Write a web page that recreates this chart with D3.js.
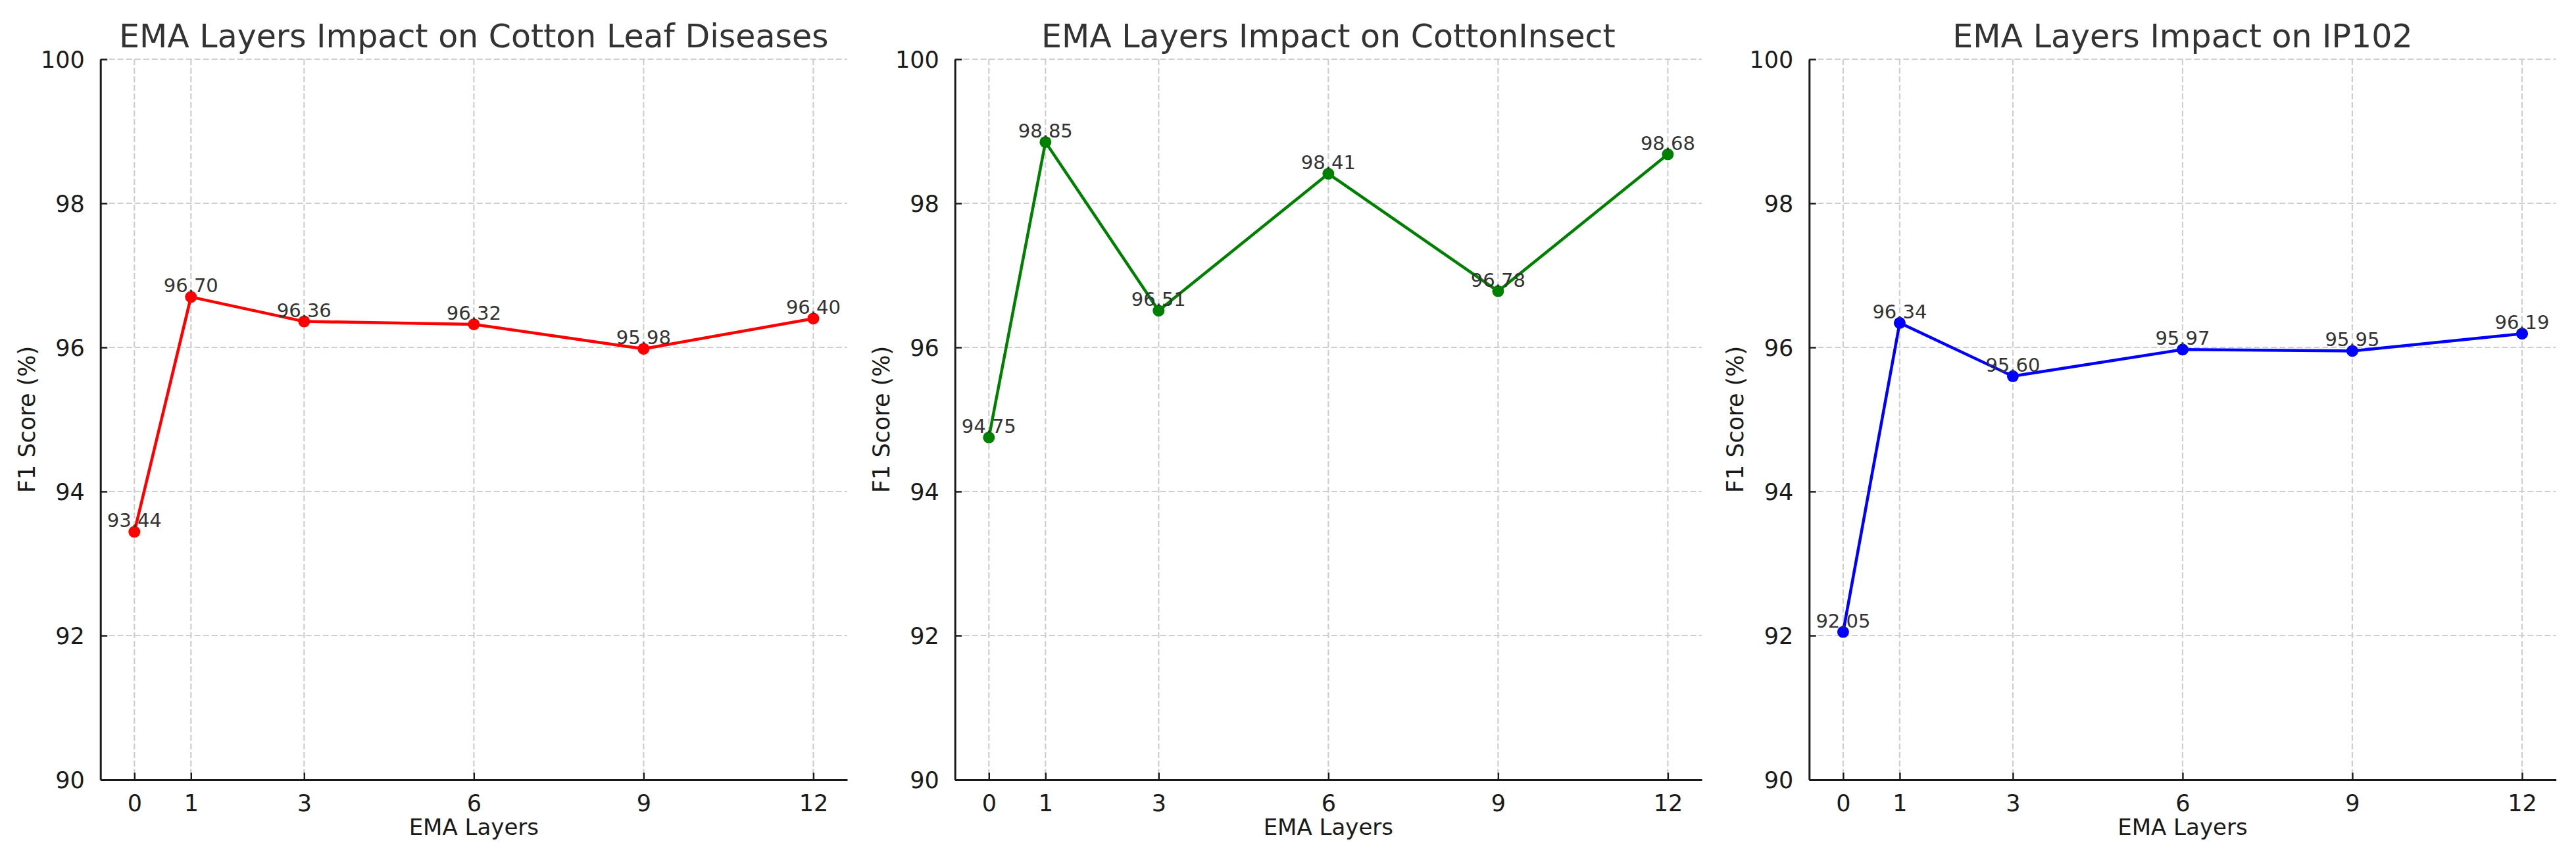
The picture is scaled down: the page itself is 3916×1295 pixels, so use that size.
<!DOCTYPE html>
<html>
<head>
<meta charset="utf-8">
<script src="https://cdn.jsdelivr.net/npm/d3@7/dist/d3.min.js"></script>
<style>
  html, body { margin: 0; padding: 0; background: #fff; }
  svg { display: block; font-family: "DejaVu Sans", sans-serif; }
</style>
</head>
<body>
<svg id="chart" width="3916" height="1295"></svg>
<script>
// ---- data ----
const layers = [0, 1, 3, 6, 9, 12];
const titles = [
  "EMA Layers Impact on Cotton Leaf Diseases",
  "EMA Layers Impact on CottonInsect",
  "EMA Layers Impact on IP102"
];
const cottonLeaf = [93.44, 96.70, 96.36, 96.32, 95.98, 96.40];
const cottonInsect = [94.75, 98.85, 96.51, 98.41, 96.78, 98.68];
const ip102 = [92.05, 96.34, 95.60, 95.97, 95.95, 96.19];
const seriesColors = ["#ff0000", "#008000", "#0000ff"];
const yTicks = [90, 92, 94, 96, 98, 100];
const xLabel = "EMA Layers";
const yLabel = "F1 Score (%)";

const series = [cottonLeaf, cottonInsect, ip102];

// ---- layout ----
const svg = d3.select("#chart");
svg.append("rect").attr("width", 3916).attr("height", 1295).attr("fill", "#fff");

const panelLefts = [152.7, 1451.7, 2750.3];
const W = 1135.3, plotTop = 90, plotBottom = 1185;

series.forEach((vals, i) => {
  const left = panelLefts[i];
  const x = d3.scaleLinear().domain([-0.6, 12.6]).range([left, left + W]);
  const y = d3.scaleLinear().domain([90, 100]).range([plotBottom, plotTop]);
  const g = svg.append("g");

  // grid
  const grid = g.append("g");
  grid.selectAll("line.v").data(layers).join("line").attr("class", "v")
    .attr("x1", d => x(d)).attr("x2", d => x(d))
    .attr("y1", plotTop).attr("y2", plotBottom)
    .attr("stroke", "#cfcfcf").attr("stroke-width", 2.2)
    .attr("stroke-dasharray", "9,4");
  grid.selectAll("line.h").data(yTicks).join("line").attr("class", "h")
    .attr("x1", left).attr("x2", left + W)
    .attr("y1", d => y(d)).attr("y2", d => y(d))
    .attr("stroke", "#cfcfcf").attr("stroke-width", 2.2)
    .attr("stroke-dasharray", "9,4");

  // axes
  const xAxis = d3.axisBottom(x).tickValues(layers).tickSizeInner(-10.5).tickSizeOuter(0).tickPadding(23);
  const yAxis = d3.axisLeft(y).tickValues(yTicks).tickSizeInner(-10.5).tickSizeOuter(0).tickPadding(24);

  const gx = g.append("g").attr("transform", `translate(0,${plotBottom})`).call(xAxis);
  const gy = g.append("g").attr("transform", `translate(${left},0)`).call(yAxis);
  [gx, gy].forEach(ax => {
    ax.select(".domain").attr("stroke", "#1a1a1a").attr("stroke-width", 3);
    ax.selectAll(".tick line").attr("stroke", "#1a1a1a").attr("stroke-width", 2.4);
    ax.selectAll(".tick text").attr("fill", "#1a1a1a")
      .style("font-size", "35px").style("font-family", "DejaVu Sans");
  });
  gx.selectAll(".tick text").attr("dy", "0.71em");
  gy.selectAll(".tick text").attr("dy", "0.36em");

  // labels
  g.append("text").attr("x", x(6)).attr("y", 1269)
    .attr("text-anchor", "middle").attr("fill", "#1a1a1a")
    .style("font-size", "34px").text(xLabel);
  g.append("text")
    .attr("transform", `translate(${left - 100},${(plotTop + plotBottom) / 2}) rotate(-90)`)
    .attr("text-anchor", "middle").attr("fill", "#1a1a1a")
    .style("font-size", "35px").text(yLabel);

  g.append("text").attr("x", left + W / 2).attr("y", 72)
    .attr("text-anchor", "middle").attr("fill", "#333")
    .style("font-size", "49px").text(titles[i]);

  // line + markers
  const pts = layers.map((l, k) => [l, vals[k]]);
  g.append("path").datum(pts)
    .attr("d", d3.line().x(d => x(d[0])).y(d => y(d[1])))
    .attr("fill", "none").attr("stroke", seriesColors[i])
    .attr("stroke-width", 4.5).attr("stroke-linejoin", "round");
  g.selectAll("circle").data(pts).join("circle")
    .attr("cx", d => x(d[0])).attr("cy", d => y(d[1])).attr("r", 9)
    .attr("fill", seriesColors[i]);
  g.selectAll("text.ann").data(pts).join("text").attr("class", "ann")
    .attr("x", d => x(d[0])).attr("y", d => y(d[1]) - 7)
    .attr("text-anchor", "middle").attr("fill", "#333")
    .style("font-size", "29px").text(d => d[1].toFixed(2));
});
</script>
</body>
</html>
